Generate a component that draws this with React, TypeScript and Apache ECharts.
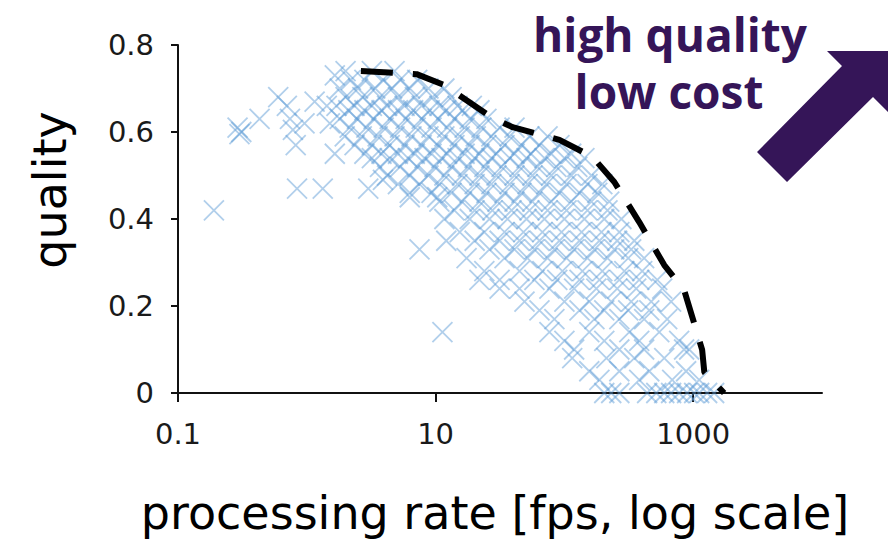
import React, { useEffect, useRef } from 'react';
import * as echarts from 'echarts';

// ---- data (processing rate in fps, quality 0..1) ----
const qualityLevels = [
  0.74, 0.72, 0.7, 0.68, 0.66, 0.65, 0.63, 0.61, 0.59, 0.57, 0.55, 0.54, 0.52, 0.5, 0.48, 0.46, 0.44, 0.42,
  0.4, 0.37, 0.35, 0.33, 0.31, 0.28, 0.26, 0.24, 0.21, 0.19, 0.17, 0.14, 0.12, 0.1, 0.08, 0.05, 0.03, 0.0,
];
const ratesAtLevel: number[][] = [
  [2.0, 3.2, 4.8],
  [2.2, 2.8, 3.9, 5.3, 7.2],
  [1.8, 2.5, 3.4, 4.6, 6.3, 8.8, 11.7],
  [2.0, 2.7, 3.7, 5.1, 6.9, 9.5, 13.3],
  [1.7, 2.35, 3.2, 4.2, 5.75, 7.8, 10.7, 14.8, 19.1],
  [2.1, 2.8, 3.8, 5.1, 6.7, 9.0, 12.1, 16.2, 21.9],
  [1.8, 2.45, 3.3, 4.4, 5.85, 7.8, 10.4, 14.0, 18.4, 24.8],
  [2.15, 2.9, 3.95, 5.3, 7.0, 9.3, 12.3, 16.8, 22.7, 31.4, 41],
  [1.97, 2.67, 3.55, 4.8, 6.5, 8.8, 11.7, 15.4, 20.5, 27.1, 37.5, 53.5, 74],
  [2.35, 3.2, 4.4, 5.75, 7.8, 10.4, 14.0, 18.4, 24.8, 34.3, 46.4, 64, 91.5],
  [2.8, 3.8, 5.1, 6.9, 9.3, 12.3, 16.8, 21.9, 29.7, 41, 55, 79, 113],
  [3.2, 4.4, 6.1, 8.2, 11.1, 14.8, 20.1, 27.1, 37.5, 50.8, 70, 100, 143],
  [3.7, 5.3, 7.2, 9.8, 13.3, 17.8, 23.9, 32.5, 44.8, 61.7, 86.7, 126],
  [4.2, 6.3, 8.8, 11.7, 16.0, 21.9, 29.7, 41, 56.4, 79, 113, 162],
  [5.1, 7.5, 10.7, 14.8, 20.1, 27.1, 37.5, 51.7, 72.5, 104, 151, 197],
  [6.3, 9.3, 13.3, 18.4, 24.8, 34.3, 46.4, 64, 91.5, 131, 180],
  [10.7, 16.0, 21.9, 30.2, 41, 56.4, 79, 113, 162, 223],
  [14.0, 20.1, 27.6, 38.9, 53.5, 74, 104, 151, 216],
  [11.7, 18.4, 26.2, 36.2, 50.8, 70, 100, 143, 204, 277],
  [15.4, 23.9, 34.3, 48.1, 67.5, 95, 136, 194, 267],
  [12.1, 20.1, 31.4, 44.8, 64, 91.5, 131, 187, 257, 349],
  [7.5, 26.2, 41, 58.5, 83.6, 119, 171, 244, 330],
  [17.4, 34.3, 51.7, 74, 104, 151, 216, 313, 416],
  [23.9, 44.8, 67.5, 96.5, 138, 197, 292, 402],
  [21.9, 31.4, 58.5, 88, 131, 187, 267, 381, 526],
  [31.4, 44.8, 76.5, 119, 177, 257, 361, 575],
  [49, 100, 156, 231, 330, 472, 674],
  [64, 131, 204, 313, 456],
  [83.6, 171, 267, 416, 628],
  [11.3, 76.5, 156, 319, 545],
  [100, 204, 381, 778],
  [119, 267, 416, 850, 931],
  [115, 212, 349, 596],
  [156, 267, 456, 881],
  [187, 381, 687, 1113],
  [204, 231, 267, 439, 517, 596, 674, 778, 897, 1018, 1113, 1283, 1454],
];
const extraRates = [0.19, 0.29, 0.31, 0.3, 0.43, 0.6, 0.7, 0.74, 0.78, 0.82, 0.84, 0.96, 1.15, 1.33, 1.43, 1.51, 1.65, 1.65, 3.0, 3.9, 6.3, 10.3];
const extraQualities = [0.42, 0.61, 0.6, 0.595, 0.63, 0.68, 0.66, 0.63, 0.605, 0.57, 0.47, 0.62, 0.67, 0.47, 0.66, 0.62, 0.73, 0.55, 0.47, 0.49, 0.45, 0.45];

const frontierRates = [2.63, 7.12, 11.7, 27.1, 39.6, 91.5, 165, 244, 381, 596, 850, 1174, 1220, 1738];
const frontierQualities = [0.74, 0.733, 0.708, 0.634, 0.611, 0.582, 0.543, 0.485, 0.393, 0.294, 0.237, 0.099, 0.048, 0];

const xTickLabels = [0.1, 10, 1000];
const xRange = [0.1, 10000];
const yRange = [0, 0.8];
const yStep = 0.2;

const PURPLE = '#351558';

function fmtRate(v: number): string {
  return String(+Math.pow(10, v).toPrecision(6));
}

export default function App() {
  const ref = useRef<HTMLDivElement>(null);
  useEffect(() => {
    if (!ref.current) return;
    const chart = echarts.init(ref.current, undefined, { renderer: 'svg' });

    const scatterData: number[][] = [];
    qualityLevels.forEach((q, i) => {
      ratesAtLevel[i].forEach((r) => scatterData.push([Math.log10(r), q]));
    });
    extraRates.forEach((r, i) => scatterData.push([Math.log10(r), extraQualities[i]]));
    const frontierData = frontierRates.map((r, i) => [Math.log10(r), frontierQualities[i]]);
    const xTicks = xTickLabels.map((v) => Math.log10(v));

    chart.setOption({
      animation: false,
      grid: { left: 178, right: 66, top: 45, bottom: 146, containLabel: false, outerBoundsMode: 'none' },
      xAxis: {
        type: 'value',
        min: Math.log10(xRange[0]),
        max: Math.log10(xRange[1]),
        splitLine: { show: false },
        axisLine: { show: true, onZero: false, lineStyle: { color: '#111', width: 2 } },
        axisTick: { show: true, customValues: xTicks, length: 9, lineStyle: { color: '#111', width: 2 } },
        axisLabel: {
          customValues: xTicks,
          formatter: (v: number) => fmtRate(v),
          margin: 26,
          fontSize: 29,
          fontFamily: 'DejaVu Sans',
          color: '#1a1a1a',
        },
      },
      yAxis: {
        type: 'value',
        min: yRange[0],
        max: yRange[1],
        interval: yStep,
        splitLine: { show: false },
        axisLine: { show: true, onZero: false, lineStyle: { color: '#111', width: 2 } },
        axisTick: { show: true, length: 7, lineStyle: { color: '#111', width: 2 } },
        axisLabel: { margin: 24, fontSize: 29, fontFamily: 'DejaVu Sans', color: '#1a1a1a' },
      },
      series: [
        {
          type: 'scatter',
          data: scatterData,
          symbol: 'path://M0,0L10,10M10,0L0,10',
          symbolSize: 20,
          itemStyle: { color: 'rgba(0,0,0,0)', borderColor: 'rgba(91,155,213,0.6)', borderWidth: 1.8 },
          z: 2,
        },
        {
          type: 'line',
          data: frontierData,
          symbol: 'none',
          lineStyle: { color: '#000', width: 6, type: [32, 20], cap: 'butt' },
          z: 3,
        },
      ],
      graphic: [
        {
          type: 'text',
          x: 50,
          y: 190,
          rotation: Math.PI / 2,
          style: { text: 'quality', font: '46px "DejaVu Sans"', fill: '#000', align: 'center', verticalAlign: 'middle' },
        },
        {
          type: 'text',
          x: 495,
          y: 513,
          style: {
            text: 'processing rate [fps, log scale]',
            font: '46px "DejaVu Sans"',
            fill: '#000',
            align: 'center',
            verticalAlign: 'middle',
          },
        },
        {
          type: 'text',
          x: 670,
          y: 34,
          style: { text: 'high quality', font: 'bold 46px "Open Sans"', fill: PURPLE, align: 'center', verticalAlign: 'middle' },
        },
        {
          type: 'text',
          x: 669,
          y: 91,
          style: { text: 'low cost', font: 'bold 46px "Open Sans"', fill: PURPLE, align: 'center', verticalAlign: 'middle' },
        },
        {
          type: 'polygon',
          shape: {
            points: [
              [888, 51],
              [827, 51],
              [842, 66],
              [757, 152],
              [787, 182],
              [873, 97],
              [888, 112],
            ],
          },
          style: { fill: PURPLE },
        },
      ],
    });
    return () => chart.dispose();
  }, []);
  return <div ref={ref} style={{ position: 'absolute', left: 0, top: 0, width: 888, height: 539 }} />;
}
